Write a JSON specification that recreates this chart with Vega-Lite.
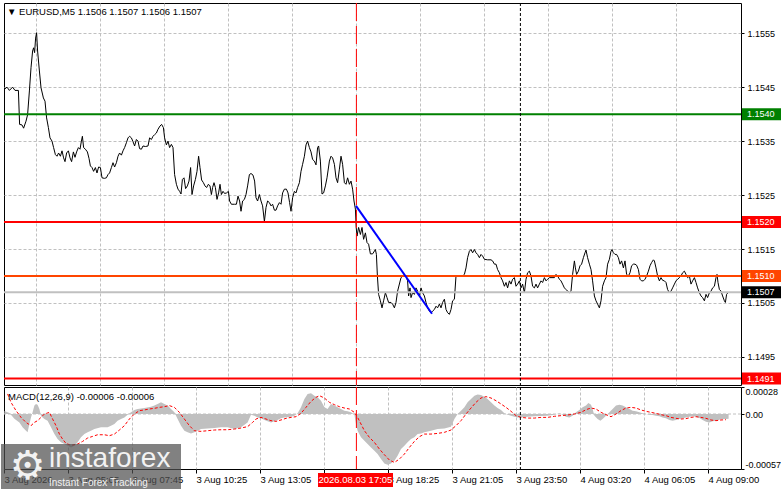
{
  "$schema": "https://vega.github.io/schema/vega-lite/v6.json",
  "background": "white",
  "padding": {"left": 0, "top": 2, "right": 0, "bottom": 0},
  "spacing": 2,
  "bounds": "flush",
  "config": {
    "view": {"stroke": "black", "strokeWidth": 1},
    "font": "Liberation Sans",
    "axis": {"labelFont": "Liberation Sans", "labelFontSize": 9, "labelColor": "black", "tickColor": "black", "title": null}
  },
  "datasets": {
    "price": [
      {"t":1.7,"p":1.15446},{"t":3.0,"p":1.1545},{"t":4.2,"p":1.15444},{"t":5.8,"p":1.1545},{"t":7.0,"p":1.15444},{"t":8.7,"p":1.15444},
      {"t":9.3,"p":1.15381},{"t":10.5,"p":1.1538},{"t":11.3,"p":1.15374},{"t":12.5,"p":1.15387},{"t":13.3,"p":1.15399},{"t":14.2,"p":1.15443},
      {"t":15.0,"p":1.15486},{"t":15.8,"p":1.15517},{"t":16.3,"p":1.15523},{"t":16.8,"p":1.15514},{"t":17.3,"p":1.15541},{"t":17.8,"p":1.15551},
      {"t":18.3,"p":1.15517},{"t":19.2,"p":1.1548},{"t":20.0,"p":1.15449},{"t":21.2,"p":1.1543},{"t":22.0,"p":1.15424},{"t":22.8,"p":1.15393},
      {"t":23.7,"p":1.15375},{"t":24.5,"p":1.15356},{"t":25.5,"p":1.1535},{"t":26.3,"p":1.15338},{"t":27.2,"p":1.15325},{"t":28.0,"p":1.15322},
      {"t":28.8,"p":1.15328},{"t":29.7,"p":1.15322},{"t":30.5,"p":1.15332},{"t":31.3,"p":1.15319},{"t":32.0,"p":1.15312},{"t":32.8,"p":1.15328},
      {"t":33.7,"p":1.15332},{"t":34.5,"p":1.15319},{"t":35.3,"p":1.15312},{"t":36.2,"p":1.1533},{"t":37.0,"p":1.1532},{"t":37.8,"p":1.1533},
      {"t":38.7,"p":1.15338},{"t":39.5,"p":1.15335},{"t":40.2,"p":1.1535},{"t":40.7,"p":1.15359},{"t":41.3,"p":1.15338},{"t":42.2,"p":1.15335},
      {"t":43.2,"p":1.1533},{"t":44.0,"p":1.15318},{"t":44.7,"p":1.15304},{"t":45.5,"p":1.15301},{"t":46.3,"p":1.15294},{"t":47.2,"p":1.15301},
      {"t":48.0,"p":1.15291},{"t":48.8,"p":1.15302},{"t":49.7,"p":1.15301},{"t":50.5,"p":1.15282},{"t":51.7,"p":1.15281},{"t":52.7,"p":1.15282},
      {"t":53.5,"p":1.15288},{"t":54.3,"p":1.15291},{"t":55.2,"p":1.15301},{"t":56.0,"p":1.1531},{"t":56.8,"p":1.15302},{"t":57.7,"p":1.1531},
      {"t":58.5,"p":1.15322},{"t":59.3,"p":1.15328},{"t":60.2,"p":1.15324},{"t":61.0,"p":1.15332},{"t":61.8,"p":1.15338},{"t":62.7,"p":1.15347},
      {"t":63.5,"p":1.15356},{"t":64.3,"p":1.15359},{"t":65.2,"p":1.15356},{"t":66.0,"p":1.15349},{"t":66.8,"p":1.15341},{"t":67.7,"p":1.15353},
      {"t":68.5,"p":1.1535},{"t":69.3,"p":1.15336},{"t":70.2,"p":1.15335},{"t":71.0,"p":1.15341},{"t":72.2,"p":1.1534},{"t":73.5,"p":1.15341},
      {"t":74.3,"p":1.15356},{"t":75.2,"p":1.15353},{"t":76.0,"p":1.15359},{"t":76.8,"p":1.15362},{"t":77.7,"p":1.15365},{"t":78.5,"p":1.15372},
      {"t":79.5,"p":1.15378},{"t":80.3,"p":1.15381},{"t":81.2,"p":1.15375},{"t":81.8,"p":1.15356},{"t":82.7,"p":1.15343},{"t":83.5,"p":1.1535},
      {"t":84.3,"p":1.15338},{"t":85.2,"p":1.15344},{"t":86.0,"p":1.15338},{"t":86.8,"p":1.15288},{"t":87.7,"p":1.1527},{"t":88.5,"p":1.15261},
      {"t":89.3,"p":1.15257},{"t":90.0,"p":1.15252},{"t":90.7,"p":1.15279},{"t":91.5,"p":1.15282},{"t":92.3,"p":1.15262},{"t":93.2,"p":1.15267},
      {"t":94.0,"p":1.15276},{"t":94.8,"p":1.15301},{"t":95.5,"p":1.15251},{"t":96.3,"p":1.15267},{"t":97.2,"p":1.15279},{"t":98.0,"p":1.15294},
      {"t":98.8,"p":1.15322},{"t":99.5,"p":1.15301},{"t":100.3,"p":1.15278},{"t":101.2,"p":1.15273},{"t":102.0,"p":1.15267},{"t":102.8,"p":1.15264},
      {"t":103.7,"p":1.1527},{"t":104.5,"p":1.15267},{"t":105.2,"p":1.15251},{"t":105.8,"p":1.15264},{"t":106.5,"p":1.15273},{"t":107.2,"p":1.15264},
      {"t":108.0,"p":1.15242},{"t":108.8,"p":1.15254},{"t":109.5,"p":1.1527},{"t":110.2,"p":1.15251},{"t":111.0,"p":1.15257},{"t":111.8,"p":1.15253},
      {"t":112.8,"p":1.15254},{"t":113.7,"p":1.15257},{"t":114.3,"p":1.15239},{"t":115.2,"p":1.15233},{"t":116.7,"p":1.15233},{"t":117.7,"p":1.15233},
      {"t":118.5,"p":1.15248},{"t":119.3,"p":1.15239},{"t":120.0,"p":1.1522},{"t":120.8,"p":1.15239},{"t":121.7,"p":1.15242},{"t":122.5,"p":1.15251},
      {"t":123.3,"p":1.15267},{"t":124.2,"p":1.15288},{"t":125.0,"p":1.1529},{"t":126.0,"p":1.15287},{"t":126.8,"p":1.15276},{"t":127.5,"p":1.15245},
      {"t":128.3,"p":1.15239},{"t":129.2,"p":1.15251},{"t":130.0,"p":1.15239},{"t":130.8,"p":1.1523},{"t":131.7,"p":1.15201},{"t":132.5,"p":1.15227},
      {"t":133.3,"p":1.15239},{"t":134.2,"p":1.15236},{"t":135.0,"p":1.1523},{"t":135.8,"p":1.15233},{"t":136.7,"p":1.15222},{"t":137.5,"p":1.15222},
      {"t":138.3,"p":1.1523},{"t":139.2,"p":1.15236},{"t":140.0,"p":1.15233},{"t":140.8,"p":1.15254},{"t":141.7,"p":1.15261},{"t":142.7,"p":1.15261},
      {"t":143.5,"p":1.15254},{"t":144.3,"p":1.15236},{"t":145.0,"p":1.1522},{"t":145.8,"p":1.15245},{"t":146.7,"p":1.15257},{"t":147.5,"p":1.15254},
      {"t":148.3,"p":1.15264},{"t":149.2,"p":1.15273},{"t":150.0,"p":1.15294},{"t":150.8,"p":1.15307},{"t":151.7,"p":1.15322},{"t":152.5,"p":1.15343},
      {"t":153.3,"p":1.1535},{"t":154.2,"p":1.15338},{"t":155.0,"p":1.1533},{"t":155.8,"p":1.15316},{"t":156.7,"p":1.15313},{"t":157.5,"p":1.15306},
      {"t":158.3,"p":1.15338},{"t":158.8,"p":1.15341},{"t":159.7,"p":1.15313},{"t":160.5,"p":1.15252},{"t":161.3,"p":1.15254},{"t":162.2,"p":1.15267},
      {"t":163.0,"p":1.15282},{"t":164.2,"p":1.15313},{"t":165.0,"p":1.15322},{"t":165.8,"p":1.15319},{"t":166.7,"p":1.15307},{"t":167.5,"p":1.15282},
      {"t":168.3,"p":1.15273},{"t":169.2,"p":1.15298},{"t":170.0,"p":1.15322},{"t":170.8,"p":1.15307},{"t":171.7,"p":1.15273},{"t":172.5,"p":1.1527},
      {"t":173.3,"p":1.15282},{"t":174.2,"p":1.1527},{"t":175.0,"p":1.15276},{"t":175.8,"p":1.15261},{"t":176.5,"p":1.15239},{"t":177.2,"p":1.15224},
      {"t":177.6,"p":1.1519},{"t":178.0,"p":1.15174},{"t":178.8,"p":1.1519},{"t":179.7,"p":1.15177},{"t":180.5,"p":1.1519},{"t":181.3,"p":1.15168},
      {"t":182.2,"p":1.1518},{"t":183.0,"p":1.15162},{"t":183.8,"p":1.15159},{"t":184.7,"p":1.15141},{"t":185.8,"p":1.15141},{"t":187.2,"p":1.15149},
      {"t":187.7,"p":1.1514},{"t":188.2,"p":1.151},{"t":188.8,"p":1.15066},{"t":189.7,"p":1.15054},{"t":190.5,"p":1.15041},{"t":191.3,"p":1.15054},
      {"t":192.2,"p":1.15069},{"t":193.0,"p":1.1506},{"t":193.8,"p":1.15051},{"t":195.0,"p":1.15051},{"t":195.8,"p":1.15048},{"t":196.7,"p":1.15041},
      {"t":197.5,"p":1.15051},{"t":198.3,"p":1.15072},{"t":200.0,"p":1.15097},{"t":201.7,"p":1.15103},{"t":202.5,"p":1.151},{"t":203.3,"p":1.15091},
      {"t":203.8,"p":1.15063},{"t":204.5,"p":1.15078},{"t":205.0,"p":1.1506},{"t":205.8,"p":1.15069},{"t":206.7,"p":1.15066},{"t":207.5,"p":1.15078},
      {"t":208.3,"p":1.15072},{"t":209.2,"p":1.15063},{"t":210.0,"p":1.15078},{"t":210.8,"p":1.15069},{"t":211.7,"p":1.15063},{"t":212.5,"p":1.15051},
      {"t":213.3,"p":1.15041},{"t":214.2,"p":1.15035},{"t":215.0,"p":1.15032},{"t":215.8,"p":1.15035},{"t":216.7,"p":1.15038},{"t":217.5,"p":1.15044},
      {"t":218.3,"p":1.15041},{"t":219.2,"p":1.15048},{"t":220.0,"p":1.15041},{"t":220.8,"p":1.15051},{"t":221.7,"p":1.15057},{"t":222.5,"p":1.15038},
      {"t":223.3,"p":1.15032},{"t":224.2,"p":1.15029},{"t":225.0,"p":1.15038},{"t":225.8,"p":1.15054},{"t":226.7,"p":1.15057},{"t":227.5,"p":1.151},
      {"t":229.2,"p":1.151},{"t":230.8,"p":1.151},{"t":231.7,"p":1.15103},{"t":232.5,"p":1.15115},{"t":233.3,"p":1.15134},{"t":234.2,"p":1.15146},
      {"t":235.0,"p":1.15149},{"t":235.8,"p":1.15143},{"t":236.7,"p":1.15149},{"t":237.5,"p":1.15143},{"t":238.3,"p":1.1514},{"t":239.2,"p":1.15134},
      {"t":240.0,"p":1.1514},{"t":240.8,"p":1.15137},{"t":241.7,"p":1.15131},{"t":243.3,"p":1.1513},{"t":245.0,"p":1.1513},{"t":245.8,"p":1.15128},
      {"t":246.7,"p":1.15122},{"t":247.5,"p":1.15122},{"t":248.3,"p":1.15112},{"t":249.2,"p":1.15106},{"t":250.0,"p":1.15097},{"t":250.8,"p":1.15091},
      {"t":251.7,"p":1.15081},{"t":252.5,"p":1.15088},{"t":253.3,"p":1.15078},{"t":254.2,"p":1.15091},{"t":255.0,"p":1.15085},{"t":255.8,"p":1.15094},
      {"t":256.7,"p":1.15097},{"t":257.5,"p":1.15081},{"t":258.3,"p":1.15085},{"t":259.2,"p":1.15091},{"t":260.0,"p":1.15078},{"t":260.8,"p":1.15085},
      {"t":261.7,"p":1.15069},{"t":262.5,"p":1.15094},{"t":263.3,"p":1.15106},{"t":264.2,"p":1.15109},{"t":265.0,"p":1.151},{"t":265.8,"p":1.15081},
      {"t":266.7,"p":1.15078},{"t":267.5,"p":1.15085},{"t":268.3,"p":1.15078},{"t":269.2,"p":1.15085},{"t":270.0,"p":1.15091},{"t":270.8,"p":1.15088},
      {"t":271.7,"p":1.15097},{"t":272.5,"p":1.15091},{"t":273.3,"p":1.15094},{"t":274.2,"p":1.15097},{"t":276.7,"p":1.15097},{"t":277.5,"p":1.15103},
      {"t":278.3,"p":1.151},{"t":279.2,"p":1.15094},{"t":280.0,"p":1.15091},{"t":280.8,"p":1.15085},{"t":281.7,"p":1.15078},{"t":282.5,"p":1.15075},
      {"t":283.3,"p":1.15072},{"t":284.2,"p":1.15069},{"t":285.0,"p":1.15072},{"t":285.8,"p":1.15103},{"t":286.7,"p":1.15128},{"t":287.2,"p":1.15115},
      {"t":287.8,"p":1.15103},{"t":288.7,"p":1.15109},{"t":289.5,"p":1.15119},{"t":290.3,"p":1.15122},{"t":291.2,"p":1.15134},{"t":292.0,"p":1.15143},
      {"t":292.5,"p":1.15148},{"t":293.3,"p":1.15134},{"t":294.2,"p":1.15122},{"t":295.0,"p":1.15112},{"t":295.8,"p":1.15091},{"t":296.7,"p":1.15063},
      {"t":297.5,"p":1.15054},{"t":298.3,"p":1.15048},{"t":299.2,"p":1.15041},{"t":300.0,"p":1.15054},{"t":300.8,"p":1.15081},{"t":301.7,"p":1.15091},
      {"t":302.5,"p":1.15097},{"t":303.3,"p":1.15122},{"t":304.2,"p":1.15131},{"t":305.0,"p":1.15146},{"t":305.5,"p":1.15149},{"t":306.2,"p":1.15143},
      {"t":307.0,"p":1.1514},{"t":307.8,"p":1.1514},{"t":308.7,"p":1.15134},{"t":309.5,"p":1.15122},{"t":310.3,"p":1.15128},{"t":311.2,"p":1.15115},
      {"t":312.0,"p":1.15128},{"t":312.8,"p":1.15103},{"t":313.7,"p":1.151},{"t":314.5,"p":1.15106},{"t":315.3,"p":1.15119},{"t":316.2,"p":1.15122},
      {"t":317.0,"p":1.15122},{"t":317.8,"p":1.1512},{"t":318.7,"p":1.15112},{"t":319.5,"p":1.15094},{"t":320.3,"p":1.15091},{"t":321.2,"p":1.15091},
      {"t":322.0,"p":1.15094},{"t":322.8,"p":1.151},{"t":323.7,"p":1.15109},{"t":324.5,"p":1.15119},{"t":325.3,"p":1.15125},{"t":326.2,"p":1.1513},
      {"t":326.7,"p":1.15128},{"t":327.5,"p":1.15115},{"t":328.3,"p":1.151},{"t":329.2,"p":1.15091},{"t":330.0,"p":1.15097},{"t":330.8,"p":1.15092},
      {"t":331.7,"p":1.15091},{"t":332.5,"p":1.15088},{"t":333.3,"p":1.15075},{"t":334.2,"p":1.15069},{"t":335.0,"p":1.15072},{"t":335.8,"p":1.15078},
      {"t":336.7,"p":1.15085},{"t":337.5,"p":1.15091},{"t":338.3,"p":1.15094},{"t":339.2,"p":1.15097},{"t":340.0,"p":1.151},{"t":340.8,"p":1.15106},
      {"t":341.7,"p":1.15109},{"t":342.5,"p":1.15103},{"t":343.3,"p":1.15097},{"t":344.2,"p":1.151},{"t":345.0,"p":1.15085},{"t":345.8,"p":1.15091},
      {"t":346.7,"p":1.15097},{"t":347.5,"p":1.15088},{"t":348.3,"p":1.15078},{"t":349.2,"p":1.15069},{"t":350.0,"p":1.15063},{"t":350.8,"p":1.1506},
      {"t":351.7,"p":1.15054},{"t":352.5,"p":1.15066},{"t":353.3,"p":1.1506},{"t":354.2,"p":1.15069},{"t":355.0,"p":1.15072},{"t":355.8,"p":1.15078},
      {"t":356.7,"p":1.15081},{"t":357.5,"p":1.15097},{"t":358.0,"p":1.15103},{"t":358.5,"p":1.15088},{"t":359.2,"p":1.15075},{"t":360.0,"p":1.15072},
      {"t":360.8,"p":1.15063},{"t":361.7,"p":1.15054},{"t":362.2,"p":1.15051},{"t":362.8,"p":1.15066},{"t":363.5,"p":1.15069}
    ],
    "hist": [
      {"t":1.7,"h":0.00003},{"t":4.2,"h":0.00001},{"t":6.7,"h":-0.00005},{"t":9.2,"h":-0.000087},{"t":10.8,"h":-0.000138},{"t":12.5,"h":-0.000173},
      {"t":13.3,"h":-0.00019},{"t":14.2,"h":-0.000104},{"t":15.0,"h":-0.000035},{"t":15.8,"h":0.000017},{"t":16.7,"h":0.000087},{"t":17.5,"h":0.000104},
      {"t":18.3,"h":0.000097},{"t":19.2,"h":0.000052},{"t":20.0,"h":-0.000017},{"t":20.8,"h":-0.000035},{"t":21.7,"h":-0.000052},{"t":23.3,"h":-0.000069},
      {"t":25.0,"h":-0.000138},{"t":26.7,"h":-0.000208},{"t":28.3,"h":-0.00026},{"t":30.0,"h":-0.000294},{"t":31.7,"h":-0.000311},{"t":33.3,"h":-0.000329},
      {"t":35.0,"h":-0.000346},{"t":36.7,"h":-0.000329},{"t":38.3,"h":-0.000294},{"t":40.0,"h":-0.000242},{"t":41.7,"h":-0.000208},{"t":43.3,"h":-0.00019},
      {"t":45.0,"h":-0.000173},{"t":46.7,"h":-0.000156},{"t":50.0,"h":-0.000138},{"t":53.3,"h":-0.000138},{"t":55.0,"h":-0.000121},{"t":56.7,"h":-0.000104},
      {"t":58.3,"h":-0.000069},{"t":60.0,"h":-0.000052},{"t":61.7,"h":-0.000035},{"t":63.3,"h":-0.000007},{"t":65.0,"h":0.000017},{"t":66.7,"h":0.000042},
      {"t":68.3,"h":0.000052},{"t":71.7,"h":0.000062},{"t":75.0,"h":0.000076},{"t":76.7,"h":0.000087},{"t":78.3,"h":0.000104},{"t":80.0,"h":0.000121},
      {"t":81.7,"h":0.000104},{"t":83.3,"h":0.000087},{"t":85.0,"h":0.000052},{"t":86.7,"h":0.000017},{"t":88.3,"h":-0.000052},{"t":90.0,"h":-0.000121},
      {"t":91.7,"h":-0.000173},{"t":93.3,"h":-0.00019},{"t":95.0,"h":-0.000201},{"t":96.7,"h":-0.00019},{"t":98.3,"h":-0.000173},{"t":100.0,"h":-0.000156},
      {"t":103.3,"h":-0.000149},{"t":106.7,"h":-0.000145},{"t":110.0,"h":-0.000138},{"t":113.3,"h":-0.000138},{"t":116.7,"h":-0.000156},{"t":120.0,"h":-0.000138},
      {"t":123.3,"h":-0.000087},{"t":125.0,"h":-0.000007},{"t":126.7,"h":-0.000017},{"t":128.3,"h":-0.000035},{"t":130.0,"h":-0.000045},{"t":131.7,"h":-0.000062},
      {"t":133.3,"h":-0.000076},{"t":135.0,"h":-0.000087},{"t":136.7,"h":-0.000076},{"t":138.3,"h":-0.000062},{"t":140.0,"h":-0.000045},{"t":141.7,"h":-0.000035},
      {"t":145.0,"h":-0.000028},{"t":146.7,"h":-0.000017},{"t":148.3,"h":0.000007},{"t":150.0,"h":0.000069},{"t":151.7,"h":0.000156},{"t":153.3,"h":0.000208},
      {"t":155.0,"h":0.000215},{"t":156.7,"h":0.00019},{"t":158.3,"h":0.000173},{"t":160.0,"h":0.000138},{"t":161.7,"h":0.000069},{"t":163.3,"h":0.000052},
      {"t":165.0,"h":0.000104},{"t":166.7,"h":0.000087},{"t":168.3,"h":0.000069},{"t":170.0,"h":0.000052},{"t":171.7,"h":0.000035},{"t":173.3,"h":0.000028},
      {"t":175.0,"h":0.000017},{"t":176.7,"h":-0.000007},{"t":177.5,"h":-0.000104},{"t":178.3,"h":-0.000173},{"t":180.0,"h":-0.000242},{"t":181.7,"h":-0.000277},
      {"t":183.3,"h":-0.000311},{"t":185.0,"h":-0.000346},{"t":186.7,"h":-0.000381},{"t":188.3,"h":-0.000415},{"t":190.0,"h":-0.000467},{"t":191.7,"h":-0.000512},
      {"t":193.3,"h":-0.000526},{"t":195.0,"h":-0.000512},{"t":196.7,"h":-0.000484},{"t":198.3,"h":-0.000433},{"t":200.0,"h":-0.000363},{"t":201.7,"h":-0.000329},
      {"t":203.3,"h":-0.000294},{"t":205.0,"h":-0.00026},{"t":206.7,"h":-0.000242},{"t":208.3,"h":-0.000208},{"t":210.0,"h":-0.000201},{"t":211.7,"h":-0.00019},
      {"t":215.0,"h":-0.000173},{"t":218.3,"h":-0.000156},{"t":221.7,"h":-0.000149},{"t":225.0,"h":-0.000131},{"t":226.7,"h":-0.000052},{"t":228.3,"h":0.0},
      {"t":230.0,"h":0.000035},{"t":231.7,"h":0.000069},{"t":233.3,"h":0.000121},{"t":235.0,"h":0.000156},{"t":236.7,"h":0.00019},{"t":238.3,"h":0.000201},
      {"t":240.0,"h":0.000197},{"t":241.7,"h":0.00018},{"t":243.3,"h":0.000156},{"t":245.0,"h":0.000121},{"t":246.7,"h":0.000087},{"t":248.3,"h":0.000062},
      {"t":250.0,"h":0.000042},{"t":251.7,"h":0.000007},{"t":253.3,"h":-0.000007},{"t":255.0,"h":-0.000017},{"t":256.7,"h":-0.000028},{"t":258.3,"h":-0.000035},
      {"t":260.0,"h":-0.000035},{"t":263.3,"h":-0.000028},{"t":266.7,"h":-0.000024},{"t":270.0,"h":-0.000021},{"t":273.3,"h":-0.000017},{"t":276.7,"h":-0.000007},
      {"t":279.2,"h":0.000007},{"t":280.8,"h":-0.000007},{"t":282.5,"h":-0.000028},{"t":284.2,"h":-0.000035},{"t":285.8,"h":-0.000017},{"t":287.5,"h":0.000017},
      {"t":289.2,"h":0.000042},{"t":290.8,"h":0.000069},{"t":292.5,"h":0.000087},{"t":293.7,"h":0.000114},{"t":295.0,"h":0.000097},{"t":295.8,"h":0.000052},
      {"t":296.7,"h":-0.000017},{"t":298.3,"h":-0.000052},{"t":299.7,"h":-0.000069},{"t":300.8,"h":-0.000052},{"t":302.5,"h":-0.000017},{"t":304.2,"h":0.000017},
      {"t":305.8,"h":0.000052},{"t":307.5,"h":0.000087},{"t":309.2,"h":0.000097},{"t":310.8,"h":0.000087},{"t":312.5,"h":0.000069},{"t":314.2,"h":0.000052},
      {"t":315.8,"h":0.000035},{"t":317.5,"h":0.000028},{"t":319.2,"h":0.000017},{"t":320.8,"h":0.000007},{"t":322.5,"h":0.0},{"t":324.2,"h":-0.000007},
      {"t":325.8,"h":-0.00001},{"t":327.5,"h":-0.000017},{"t":329.2,"h":-0.000024},{"t":330.8,"h":-0.000035},{"t":332.5,"h":-0.000045},{"t":334.2,"h":-0.000062},
      {"t":335.8,"h":-0.000069},{"t":337.5,"h":-0.000062},{"t":339.2,"h":-0.000052},{"t":340.8,"h":-0.000045},{"t":342.5,"h":-0.000035},{"t":344.2,"h":-0.000028},
      {"t":345.8,"h":-0.000024},{"t":347.5,"h":-0.000028},{"t":349.2,"h":-0.000042},{"t":350.8,"h":-0.000062},{"t":352.5,"h":-0.00008},{"t":354.2,"h":-0.000087},
      {"t":355.8,"h":-0.000076},{"t":357.5,"h":-0.000069},{"t":359.2,"h":-0.000059},{"t":360.8,"h":-0.000052},{"t":362.5,"h":-0.000052},{"t":363.8,"h":-0.000048}
    ],
    "signal": [
      {"t":3.3,"s":0.000208},{"t":5.0,"s":0.000121},{"t":7.5,"s":0.000035},{"t":10.0,"s":-0.000035},{"t":12.5,"s":-0.000087},{"t":15.0,"s":-0.000121},
      {"t":16.7,"s":-0.000087},{"t":18.3,"s":-0.000069},{"t":20.0,"s":-0.000035},{"t":21.7,"s":0.0},{"t":24.2,"s":0.000017},{"t":25.8,"s":-0.000052},
      {"t":27.5,"s":-0.000121},{"t":29.2,"s":-0.000208},{"t":30.8,"s":-0.00026},{"t":32.5,"s":-0.000304},{"t":34.2,"s":-0.000318},{"t":35.8,"s":-0.000322},
      {"t":38.3,"s":-0.000311},{"t":40.8,"s":-0.000284},{"t":43.3,"s":-0.000249},{"t":45.8,"s":-0.000232},{"t":48.3,"s":-0.000215},{"t":51.7,"s":-0.000215},
      {"t":54.2,"s":-0.000225},{"t":56.7,"s":-0.000208},{"t":59.2,"s":-0.000166},{"t":61.7,"s":-0.000121},{"t":64.2,"s":-0.000052},{"t":66.7,"s":0.0},
      {"t":69.2,"s":0.000035},{"t":71.7,"s":0.000042},{"t":74.2,"s":0.000052},{"t":76.7,"s":0.000059},{"t":79.2,"s":0.000069},{"t":81.7,"s":0.000076},
      {"t":84.2,"s":0.000087},{"t":86.7,"s":0.000069},{"t":89.2,"s":0.000017},{"t":91.7,"s":-0.000052},{"t":94.2,"s":-0.000121},{"t":96.7,"s":-0.000173},
      {"t":100.0,"s":-0.00018},{"t":103.3,"s":-0.000173},{"t":106.7,"s":-0.000166},{"t":110.0,"s":-0.000163},{"t":113.3,"s":-0.000163},{"t":116.7,"s":-0.000156},
      {"t":120.0,"s":-0.000145},{"t":123.3,"s":-0.000131},{"t":125.8,"s":-0.000087},{"t":127.5,"s":-0.000052},{"t":130.0,"s":-0.000035},{"t":132.5,"s":-0.000052},
      {"t":135.0,"s":-0.000069},{"t":137.5,"s":-0.000076},{"t":140.0,"s":-0.000062},{"t":142.5,"s":-0.000045},{"t":145.0,"s":-0.000035},{"t":147.5,"s":-0.000028},
      {"t":150.0,"s":0.000007},{"t":152.5,"s":0.000069},{"t":155.0,"s":0.000131},{"t":157.5,"s":0.000173},{"t":159.2,"s":0.00019},{"t":161.7,"s":0.000166},
      {"t":164.2,"s":0.000121},{"t":166.7,"s":0.000097},{"t":169.2,"s":0.000076},{"t":171.7,"s":0.000062},{"t":174.2,"s":0.000052},{"t":176.7,"s":0.000017},
      {"t":178.3,"s":-0.000035},{"t":180.0,"s":-0.000104},{"t":181.7,"s":-0.000173},{"t":184.2,"s":-0.000242},{"t":186.7,"s":-0.000294},{"t":189.2,"s":-0.000363},
      {"t":191.7,"s":-0.000422},{"t":194.2,"s":-0.000477},{"t":196.7,"s":-0.000502},{"t":199.2,"s":-0.000467},{"t":201.7,"s":-0.000415},{"t":204.2,"s":-0.000346},
      {"t":206.7,"s":-0.000284},{"t":209.2,"s":-0.000235},{"t":211.7,"s":-0.000208},{"t":215.0,"s":-0.000208},{"t":218.3,"s":-0.000201},{"t":221.7,"s":-0.00019},
      {"t":225.0,"s":-0.000166},{"t":227.5,"s":-0.000121},{"t":230.0,"s":-0.000069},{"t":232.5,"s":0.0},{"t":235.0,"s":0.000062},{"t":237.5,"s":0.000121},
      {"t":240.0,"s":0.000166},{"t":242.5,"s":0.00018},{"t":245.0,"s":0.000166},{"t":247.5,"s":0.000138},{"t":250.0,"s":0.000104},{"t":252.5,"s":0.000069},
      {"t":255.0,"s":0.000028},{"t":257.5,"s":-0.000017},{"t":260.0,"s":-0.000035},{"t":263.3,"s":-0.000042},{"t":266.7,"s":-0.000042},{"t":270.0,"s":-0.000035},
      {"t":273.3,"s":-0.000035},{"t":276.7,"s":-0.000024},{"t":280.0,"s":-0.000017},{"t":283.3,"s":-0.00001},{"t":286.7,"s":0.0},{"t":290.0,"s":0.000017},
      {"t":292.5,"s":0.000045},{"t":295.0,"s":0.000062},{"t":297.5,"s":0.000052},{"t":300.0,"s":0.000017},{"t":302.5,"s":-0.000007},{"t":305.0,"s":-0.000028},
      {"t":307.5,"s":0.0},{"t":310.0,"s":0.000035},{"t":312.5,"s":0.000062},{"t":315.0,"s":0.000069},{"t":317.5,"s":0.000062},{"t":320.0,"s":0.000042},
      {"t":322.5,"s":0.000028},{"t":325.0,"s":0.000017},{"t":327.5,"s":0.000007},{"t":330.0,"s":-0.000007},{"t":332.5,"s":-0.000017},{"t":335.0,"s":-0.000035},
      {"t":337.5,"s":-0.000045},{"t":340.0,"s":-0.000052},{"t":342.5,"s":-0.000048},{"t":345.0,"s":-0.000035},{"t":347.5,"s":-0.000028},{"t":350.0,"s":-0.000035},
      {"t":352.5,"s":-0.000045},{"t":355.0,"s":-0.000062},{"t":357.5,"s":-0.000069},{"t":360.0,"s":-0.000062},{"t":362.5,"s":-0.000059}
    ],
    "levels": [
      {"p":1.154,"kind":"buy"},
      {"p":1.152,"kind":"sell"},
      {"p":1.151,"kind":"target"},
      {"p":1.1507,"kind":"bid"},
      {"p":1.1491,"kind":"stop"}
    ],
    "trend": [
      {"t":177.5,"p":1.1523},
      {"t":215.5,"p":1.1503}
    ],
    "vlines": [
      {"t":177.7,"kind":"event"},
      {"t":259.7,"kind":"now"}
    ]
  },
  "vconcat": [
    {
      "width": 737,
      "height": 382,
      "resolve": {"scale": {"color": "independent", "strokeWidth": "independent", "strokeDash": "independent"}},
      "layer": [
        {
          "data": {"name": "price"},
          "mark": {"type": "line", "color": "black", "strokeWidth": 1, "clip": true},
          "encoding": {
            "x": {
              "field": "t", "type": "quantitative",
              "scale": {"domain": [1.5, 370], "nice": false, "zero": false, "padding": 0},
              "axis": {
                "values": [17.5, 33.5, 49.5, 65.5, 81.5, 97.5, 113.5, 129.5, 145.5, 161.5, 177.5, 193.5, 209.5, 225.5, 241.5, 257.5, 273.5, 289.5, 305.5, 321.5, 337.5, 353.5],
                "grid": true, "gridColor": "#c0c0c0", "gridDash": [3, 2], "gridWidth": 1,
                "labels": false, "ticks": false, "domain": false
              }
            },
            "y": {
              "field": "p", "type": "quantitative",
              "scale": {"domain": [1.14898, 1.15606], "nice": false, "zero": false, "padding": 0},
              "axis": {
                "orient": "right",
                "values": [1.1495, 1.1505, 1.1515, 1.1525, 1.1535, 1.1545, 1.1555],
                "format": ".4f",
                "grid": true, "gridColor": "#c0c0c0", "gridDash": [3, 2],
                "domain": false, "tickSize": 3, "labelPadding": 3
              }
            }
          }
        },
        {
          "data": {"name": "levels"},
          "mark": {"type": "rule"},
          "encoding": {
            "y": {"field": "p", "type": "quantitative"},
            "color": {"field": "kind", "type": "nominal", "legend": null,
              "scale": {"domain": ["buy", "sell", "target", "bid", "stop"], "range": ["#008000", "#ff0000", "#ff4500", "#c0c0c0", "#ff0000"]}},
            "strokeWidth": {"field": "kind", "type": "nominal", "legend": null,
              "scale": {"domain": ["buy", "sell", "target", "bid", "stop"], "range": [2, 2, 1, 1, 4]}}
          }
        },
        {
          "data": {"name": "vlines"},
          "mark": {"type": "rule", "strokeWidth": 1},
          "encoding": {
            "x": {"field": "t", "type": "quantitative"},
            "color": {"field": "kind", "type": "nominal", "legend": null,
              "scale": {"domain": ["event", "now"], "range": ["#ff0000", "#000000"]}},
            "strokeDash": {"field": "kind", "type": "nominal", "legend": null,
              "scale": {"domain": ["event", "now"], "range": [[18, 5], [3, 2]]}}
          }
        },
        {
          "data": {"name": "trend"},
          "mark": {"type": "line", "color": "#0000ff", "strokeWidth": 2},
          "encoding": {
            "x": {"field": "t", "type": "quantitative"},
            "y": {"field": "p", "type": "quantitative"}
          }
        },
        {
          "data": {"name": "levels"},
          "mark": {"type": "bar", "orient": "horizontal", "height": 12, "clip": false},
          "encoding": {
            "y": {"field": "p", "type": "quantitative"},
            "x": {"datum": 370.5},
            "x2": {"datum": 390.5},
            "color": {"field": "kind", "type": "nominal", "legend": null,
              "scale": {"domain": ["buy", "sell", "target", "bid", "stop"], "range": ["#008000", "#ff0000", "#ff4500", "#000000", "#ff0000"]}}
          }
        },
        {
          "data": {"name": "levels"},
          "mark": {"type": "text", "align": "left", "baseline": "middle", "color": "white", "fontSize": 9, "clip": false},
          "encoding": {
            "y": {"field": "p", "type": "quantitative"},
            "x": {"datum": 373},
            "text": {"field": "p", "type": "quantitative", "format": ".4f"}
          }
        },
        {
          "data": {"values": [{"label": "▼ EURUSD,M5  1.1506 1.1507 1.1506 1.1507"}]},
          "mark": {"type": "text", "align": "left", "baseline": "middle", "color": "black", "fontSize": 9.5},
          "encoding": {
            "x": {"datum": 3},
            "y": {"datum": 1.1559},
            "text": {"field": "label"}
          }
        }
      ]
    },
    {
      "width": 737,
      "height": 82,
      "resolve": {"scale": {"color": "independent", "strokeDash": "independent"}},
      "layer": [
        {
          "data": {"name": "hist"},
          "mark": {"type": "area", "color": "#c0c0c0", "clip": true},
          "encoding": {
            "x": {
              "field": "t", "type": "quantitative",
              "scale": {"domain": [1.5, 370], "nice": false, "zero": false, "padding": 0},
              "axis": {
                "values": [1.5, 17.5, 33.5, 49.5, 65.5, 81.5, 97.5, 113.5, 129.5, 145.5, 161.5, 177.5, 193.5, 209.5, 225.5, 241.5, 257.5, 273.5, 289.5, 305.5, 321.5, 337.5, 353.5],
                "labelExpr": "['3 Aug 2026','','3 Aug 05:05','','3 Aug 07:45','','3 Aug 10:25','','3 Aug 13:05','','','','3 Aug 18:25','','3 Aug 21:05','','3 Aug 23:50','','4 Aug 03:20','','4 Aug 06:05','','4 Aug 09:00'][round((datum.value - 1.5) / 16)]",
                "labelAlign": "left", "labelFlush": false, "labelOverlap": false, "labelBound": false,
                "labelPadding": 1, "labelFontSize": 9.5,
                "grid": true, "gridColor": "#c0c0c0", "gridDash": [3, 2],
                "gridOpacity": {"condition": {"test": "datum.value < 2", "value": 0}, "value": 1},
                "tickSize": 4,
                "tickOpacity": {"condition": {"test": "(datum.value - 1.5) % 32 == 0", "value": 1}, "value": 0},
                "domain": false
              }
            },
            "y": {
              "field": "h", "type": "quantitative",
              "scale": {"domain": [-0.00057, 0.00028], "nice": false, "zero": false, "padding": 0},
              "axis": {
                "orient": "right",
                "values": [-0.00057, 0, 0.00028],
                "labelExpr": "datum.value == 0 ? '0.00' : (datum.value < 0 ? '-' + format(-datum.value, '.5f') : format(datum.value, '.5f'))",
                "labelFlush": true,
                "grid": false, "domain": false, "tickSize": 3, "labelPadding": 1
              }
            },
            "y2": {"datum": 0}
          }
        },
        {
          "data": {"values": [{"level": 0}]},
          "mark": {"type": "rule", "color": "#c0c0c0", "strokeDash": [3, 2]},
          "encoding": {"y": {"field": "level", "type": "quantitative"}}
        },
        {
          "data": {"name": "signal"},
          "mark": {"type": "line", "color": "#ff0000", "strokeWidth": 1, "strokeDash": [3, 2]},
          "encoding": {
            "x": {"field": "t", "type": "quantitative"},
            "y": {"field": "s", "type": "quantitative"}
          }
        },
        {
          "data": {"name": "vlines"},
          "mark": {"type": "rule", "strokeWidth": 1},
          "encoding": {
            "x": {"field": "t", "type": "quantitative"},
            "color": {"field": "kind", "type": "nominal", "legend": null,
              "scale": {"domain": ["event", "now"], "range": ["#ff0000", "#000000"]}},
            "strokeDash": {"field": "kind", "type": "nominal", "legend": null,
              "scale": {"domain": ["event", "now"], "range": [[18, 5], [3, 2]]}}
          }
        },
        {
          "data": {"values": [{"label": "MACD(12,26,9) -0.00006 -0.00006"}]},
          "mark": {"type": "text", "align": "left", "baseline": "middle", "color": "black", "fontSize": 9.5},
          "encoding": {
            "x": {"datum": 3.5},
            "y": {"datum": 0.000179},
            "text": {"field": "label"}
          }
        },
        {
          "data": {"values": [{"label": "2026.08.03 17:05"}]},
          "mark": {"type": "rect", "color": "#ff0000", "clip": false},
          "encoding": {
            "x": {"datum": 158.5},
            "x2": {"datum": 196},
            "y": {"datum": -0.000612},
            "y2": {"datum": -0.000757}
          }
        },
        {
          "data": {"values": [{"label": "2026.08.03 17:05"}]},
          "mark": {"type": "text", "align": "center", "baseline": "middle", "color": "white", "fontSize": 9.5, "clip": false},
          "encoding": {
            "x": {"datum": 177.2},
            "y": {"datum": -0.000684},
            "text": {"field": "label"}
          }
        },
        {
          "data": {"values": [{"brand": "instaforex"}]},
          "mark": {"type": "rect", "color": "#505050", "opacity": 0.72, "clip": false},
          "encoding": {
            "x": {"datum": 0},
            "x2": {"datum": 90},
            "y": {"datum": -0.000311},
            "y2": {"datum": -0.000788}
          }
        },
        {
          "data": {"values": [{"glyph": "⚙"}]},
          "mark": {"type": "text", "align": "center", "baseline": "middle", "color": "white", "opacity": 0.9, "font": "DejaVu Sans", "fontSize": 40, "clip": false},
          "encoding": {
            "x": {"datum": 13.3},
            "y": {"datum": -0.000549},
            "text": {"field": "glyph"}
          }
        },
        {
          "data": {"values": [{"brand": "instaforex"}]},
          "mark": {"type": "text", "align": "left", "baseline": "alphabetic", "color": "white", "opacity": 0.9, "fontSize": 28, "clip": false},
          "encoding": {
            "x": {"datum": 24},
            "y": {"datum": -0.000549},
            "text": {"field": "brand"}
          }
        },
        {
          "data": {"values": [{"tagline": "Instant Forex Tracking"}]},
          "mark": {"type": "text", "align": "left", "baseline": "alphabetic", "color": "white", "opacity": 0.9, "fontSize": 10, "clip": false},
          "encoding": {
            "x": {"datum": 24},
            "y": {"datum": -0.000746},
            "text": {"field": "tagline"}
          }
        }
      ]
    }
  ]
}
